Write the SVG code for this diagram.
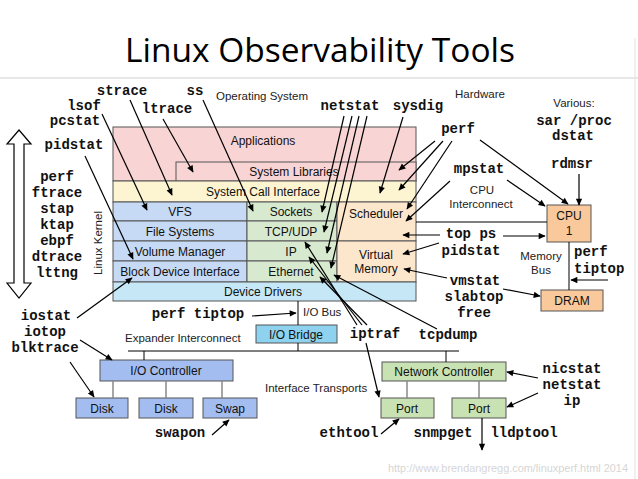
<svg xmlns="http://www.w3.org/2000/svg" width="638" height="479" viewBox="0 0 638 479">
<defs>
<marker id="a" viewBox="0 0 10 10" refX="9" refY="5" markerWidth="8" markerHeight="7" orient="auto" markerUnits="userSpaceOnUse"><path d="M0,0.5 L10,5 L0,9.5 z" fill="#000"/></marker>
<style>
.t{font-family:"Liberation Mono","Courier New",monospace;font-weight:bold;font-size:14px;fill:#111;text-anchor:middle}
.ts{font-family:"Liberation Mono","Courier New",monospace;font-weight:bold;font-size:14px;fill:#111;text-anchor:start}
.s{font-family:"Liberation Sans",Arial,sans-serif;font-size:11.5px;fill:#222}
.sm{font-family:"Liberation Sans",Arial,sans-serif;font-size:11.5px;fill:#222;text-anchor:middle}
.b{font-family:"Liberation Sans",Arial,sans-serif;font-size:12px;fill:#111;text-anchor:middle}
.box{stroke:#555;stroke-width:1}
.ar{stroke:#000;stroke-width:1.2;fill:none;marker-end:url(#a)}
.ln{stroke:#000;stroke-width:1;fill:none}
.gl{stroke:#888;stroke-width:1.5;fill:none}
</style>
</defs>
<rect width="638" height="479" fill="#fff"/>
<line x1="0" y1="78" x2="638" y2="78" stroke="#d0d0d0" stroke-width="1"/>
<line x1="635" y1="38" x2="635" y2="479" stroke="#e0e0e0" stroke-width="1"/>
<text x="320" y="62" font-family="'Open Sans','Noto Sans',sans-serif" font-size="33" fill="#000" text-anchor="middle" textLength="390" lengthAdjust="spacingAndGlyphs">Linux Observability Tools</text>

<g id="kernel-arrow"><polygon points="19,130 31,144 24,144 24,283 31,283 19,298 7,283 14,283 14,144 7,144" fill="#fff" stroke="#000" stroke-width="1.2"/></g>

<g id="os-stack">
<rect id="applications" class="box" x="113" y="127" width="303" height="54" fill="#f9d4d4"/>
<text class="b" x="263" y="145">Applications</text>
<rect id="syslibs" class="box" x="176" y="162" width="240" height="19" fill="#f9d4d4"/>
<text class="b" x="294" y="176">System Libraries</text>
<rect id="sci" class="box" x="113" y="181" width="303" height="21" fill="#fdf5d2"/>
<text class="b" x="263" y="196">System Call Interface</text>
<g id="vfs"><rect class="box" x="113" y="202" width="134" height="19" fill="#c6d9f5"/><text class="b" x="180" y="216">VFS</text></g>
<g id="fs"><rect class="box" x="113" y="221" width="134" height="20" fill="#c6d9f5"/><text class="b" x="180" y="236">File Systems</text></g>
<g id="vm-mgr"><rect class="box" x="113" y="241" width="134" height="20" fill="#c6d9f5"/><text class="b" x="180" y="256">Volume Manager</text></g>
<g id="bdi"><rect class="box" x="113" y="261" width="134" height="21" fill="#c6d9f5"/><text class="b" x="180" y="276">Block Device Interface</text></g>
<g id="sockets"><rect class="box" x="247" y="202" width="90" height="19" fill="#d7e9cf"/><text class="b" x="291" y="216">Sockets</text></g>
<g id="tcpudp"><rect class="box" x="247" y="221" width="90" height="20" fill="#d7e9cf"/><text class="b" x="291" y="236">TCP/UDP</text></g>
<g id="ip"><rect class="box" x="247" y="241" width="90" height="20" fill="#d7e9cf"/><text class="b" x="291" y="256">IP</text></g>
<g id="ethernet"><rect class="box" x="247" y="261" width="90" height="21" fill="#d7e9cf"/><text class="b" x="291" y="276">Ethernet</text></g>
<g id="scheduler"><rect class="box" x="337" y="202" width="79" height="39" fill="#fce6cc"/><text class="b" x="376" y="218">Scheduler</text></g>
<g id="virtual-memory"><rect class="box" x="337" y="241" width="79" height="41" fill="#fce6cc"/><text class="b" x="376" y="259">Virtual</text><text class="b" x="376" y="273">Memory</text></g>
<g id="device-drivers"><rect class="box" x="113" y="282" width="303" height="19" fill="#c6e7f6"/><text class="b" x="263" y="296">Device Drivers</text></g>
</g>

<g id="cpu"><rect class="box" x="547" y="205" width="44" height="37" fill="#f9c99c"/><text class="b" x="569" y="220">CPU</text><text class="b" x="569" y="235">1</text></g>
<g id="dram"><rect class="box" x="541" y="290" width="62" height="21" fill="#f9c99c"/><text class="b" x="572" y="305">DRAM</text></g>
<g id="io-bridge"><rect class="box" x="256" y="325" width="81" height="18" fill="#8ed2ef"/><text class="b" x="296" y="339">I/O Bridge</text></g>
<g id="io-controller"><rect class="box" x="100" y="360" width="133" height="21" fill="#a3bdf0"/><text class="b" x="166" y="375">I/O Controller</text></g>
<g id="disk1"><rect class="box" x="76" y="398" width="52" height="20" fill="#a3bdf0"/><text class="b" x="102" y="413">Disk</text></g>
<g id="disk2"><rect class="box" x="139" y="398" width="54" height="20" fill="#a3bdf0"/><text class="b" x="166" y="413">Disk</text></g>
<g id="swap"><rect class="box" x="203" y="398" width="54" height="20" fill="#a3bdf0"/><text class="b" x="230" y="413">Swap</text></g>
<g id="net-controller"><rect class="box" x="382" y="362" width="124" height="19" fill="#c8e2b3"/><text class="b" x="444" y="376">Network Controller</text></g>
<g id="port1"><rect class="box" x="381" y="398" width="53" height="20" fill="#c8e2b3"/><text class="b" x="407" y="413">Port</text></g>
<g id="port2"><rect class="box" x="452" y="398" width="54" height="20" fill="#c8e2b3"/><text class="b" x="479" y="413">Port</text></g>

<g id="labels">
<text class="sm" x="0" y="0" transform="translate(102,243) rotate(-90)" fill="#333">Linux Kernel</text>
<text class="s" x="216" y="100">Operating System</text>
<text class="sm" x="480" y="98">Hardware</text>
<text class="sm" x="574" y="107">Various:</text>
<text class="sm" x="482" y="194">CPU</text>
<text class="sm" x="481" y="208">Interconnect</text>
<text class="sm" x="541" y="260">Memory</text>
<text class="sm" x="541" y="274">Bus</text>
<text class="s" x="303" y="316">I/O Bus</text>
<text class="s" x="125" y="342">Expander Interconnect</text>
<text class="s" x="265" y="392">Interface Transports</text>
<text x="628" y="472" font-family="'Liberation Sans',Arial,sans-serif" font-size="11" fill="#d6d6d6" text-anchor="end" textLength="240" lengthAdjust="spacingAndGlyphs">http://www.brendangregg.com/linuxperf.html 2014</text>
</g>

<g id="tools">
<text class="t" x="122" y="95">strace</text>
<text class="t" x="195" y="95">ss</text>
<text class="t" x="84" y="110">lsof</text>
<text class="t" x="167" y="113">ltrace</text>
<text class="t" x="75" y="125">pcstat</text>
<text class="t" x="74" y="149">pidstat</text>
<text class="t" x="57" y="181">perf</text>
<text class="t" x="57" y="197">ftrace</text>
<text class="t" x="57" y="213">stap</text>
<text class="t" x="57" y="229">ktap</text>
<text class="t" x="57" y="245">ebpf</text>
<text class="t" x="57" y="261">dtrace</text>
<text class="t" x="57" y="277">lttng</text>
<text class="t" x="350" y="110">netstat</text>
<text class="t" x="418" y="110">sysdig</text>
<text class="t" x="574" y="125">sar /proc</text>
<text class="t" x="573" y="140">dstat</text>
<text class="t" x="458" y="133">perf</text>
<text class="t" x="572" y="168">rdmsr</text>
<text class="t" x="479" y="173">mpstat</text>
<text class="t" x="471" y="238">top ps</text>
<text class="t" x="471" y="255">pidstat</text>
<text class="ts" x="574" y="256">perf</text>
<text class="ts" x="574" y="273">tiptop</text>
<text class="t" x="475" y="285">vmstat</text>
<text class="t" x="474" y="301">slabtop</text>
<text class="t" x="474" y="317">free</text>
<text class="t" x="375" y="338">iptraf</text>
<text class="t" x="448" y="339">tcpdump</text>
<text class="t" x="198" y="318">perf tiptop</text>
<text class="t" x="46" y="320">iostat</text>
<text class="t" x="45" y="336">iotop</text>
<text class="t" x="45" y="352">blktrace</text>
<text class="t" x="180" y="437">swapon</text>
<text class="t" x="349" y="437">ethtool</text>
<text class="t" x="443" y="437">snmpget</text>
<text class="t" x="524" y="437">lldptool</text>
<text class="t" x="572" y="373">nicstat</text>
<text class="t" x="572" y="389">netstat</text>
<text class="t" x="572" y="405">ip</text>
</g>

<g id="connectors">
<line class="ln" x1="416" y1="222" x2="547" y2="222"/>
<line class="ln" x1="569" y1="242" x2="569" y2="290"/>
<line class="ln" x1="298" y1="301" x2="298" y2="325"/>
<line class="ln" x1="298" y1="343" x2="298" y2="351"/>
<line class="ln" x1="128" y1="351" x2="459" y2="351"/>
<line class="ln" x1="144" y1="351" x2="144" y2="360"/>
<line class="ln" x1="446" y1="351" x2="446" y2="362"/>
<line class="gl" x1="113" y1="381" x2="113" y2="398"/>
<line class="gl" x1="166" y1="381" x2="166" y2="398"/>
<line class="gl" x1="222" y1="381" x2="222" y2="398"/>
<line class="gl" x1="407" y1="381" x2="407" y2="398"/>
<line class="gl" x1="479" y1="381" x2="479" y2="398"/>

<line class="ar" x1="130" y1="100" x2="172" y2="195"/>
<line class="ar" x1="102" y1="114" x2="147" y2="210"/>
<line class="ar" x1="163" y1="119" x2="193" y2="172"/>
<line class="ar" x1="85" y1="156" x2="133" y2="259"/>
<line class="ar" x1="203" y1="100" x2="253" y2="211"/>
<line class="ar" x1="344" y1="116" x2="322" y2="212"/>
<line class="ar" x1="352" y1="116" x2="324" y2="232"/>
<line class="ar" x1="359" y1="116" x2="327" y2="253"/>
<line class="ar" x1="367" y1="116" x2="331" y2="268"/>
<line class="ar" x1="403" y1="117" x2="380" y2="193"/>
<line class="ar" x1="435" y1="141" x2="399" y2="170"/>
<line class="ar" x1="443" y1="141" x2="399" y2="190"/>
<line class="ar" x1="452" y1="141" x2="407" y2="209"/>
<line class="ar" x1="450" y1="181" x2="406" y2="221"/>
<line class="ar" x1="480" y1="140" x2="568" y2="204"/>
<line class="ar" x1="507" y1="180" x2="545" y2="206"/>
<line class="ar" x1="579" y1="174" x2="579" y2="205"/>
<line class="ar" x1="440" y1="235" x2="403" y2="235"/>
<line class="ar" x1="503" y1="236" x2="545" y2="236"/>
<line class="ar" x1="439" y1="243" x2="403" y2="254"/>
<line class="ar" x1="447" y1="278" x2="404" y2="269"/>
<line class="ar" x1="503" y1="289" x2="540" y2="296"/>
<line class="ar" x1="608" y1="280" x2="571" y2="280"/>
<line class="ar" x1="437" y1="329" x2="334" y2="275"/>
<line class="ar" x1="357" y1="325" x2="305" y2="242"/>
<line class="ar" x1="362" y1="325" x2="309" y2="257"/>
<line class="ar" x1="367" y1="325" x2="320" y2="277"/>
<line class="ar" x1="366" y1="343" x2="379" y2="397"/>
<line class="ar" x1="252" y1="316" x2="296" y2="313"/>
<line class="ar" x1="77" y1="318" x2="132" y2="278"/>
<line class="ar" x1="80" y1="340" x2="112" y2="360"/>
<line class="ar" x1="70" y1="362" x2="94" y2="397"/>
<line class="ar" x1="212" y1="435" x2="229" y2="420"/>
<line class="ar" x1="381" y1="434" x2="399" y2="419"/>
<line class="ar" x1="538" y1="378" x2="507" y2="372"/>
<line class="ar" x1="538" y1="393" x2="507" y2="407"/>
<line class="ar" x1="482" y1="418" x2="482" y2="450"/>
</g>
</svg>
